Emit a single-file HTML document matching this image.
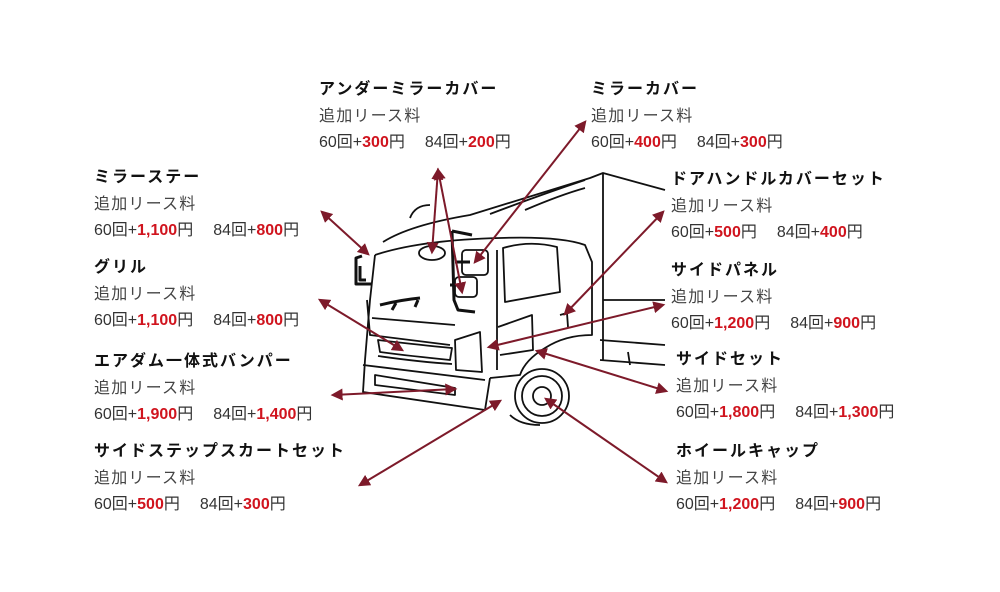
<!DOCTYPE html>
<html><head><meta charset="utf-8"><style>
body{margin:0;width:1000px;height:592px;background:#fff;position:relative;overflow:hidden;font-family:"Liberation Sans","Noto Sans CJK JP",sans-serif}
.b{position:absolute;line-height:26.5px}
.t{font-size:16px;font-weight:bold;color:#111;letter-spacing:2px}
.l{font-size:16px;color:#444;letter-spacing:1.2px}
.p{font-size:16px;color:#333}
.p b{color:#d0141e}
.g{display:inline-block;width:20px}
svg{position:absolute;left:0;top:0}
</style></head><body>
<svg width="1000" height="592" viewBox="0 0 1000 592">
<defs><marker id="a" viewBox="0 0 10 10" refX="8" refY="5" markerWidth="6" markerHeight="6" orient="auto-start-reverse"><path d="M0 0L10 5L0 10z" fill="#7d1a2a"/></marker></defs>
<g fill="none" stroke="#111" stroke-width="1.8" stroke-linejoin="round">
<path d="M383 242 Q410 225 470 215 L590 178 L603 173 L665 190"/>
<path d="M490 214 Q540 195 585 180"/>
<path d="M603 173 L603 360"/>
<path d="M603 300 L665 300"/>
<path d="M600 340 L665 345"/>
<path d="M375 255 Q420 240 500 238 Q560 236 585 245 L592 262 L592 335 Q565 335 545 348 Q525 360 520 375 L490 378"/>
<path d="M375 255 L370 300 L365 360 L363 392 L485 410 L490 378"/>
<path d="M367 300 L370 335 L450 345"/>
<path d="M372 318 L455 325"/>
<path d="M378 340 Q420 345 452 348 L450 360 Q410 356 380 352 Z"/>
<path d="M378 356 Q420 362 452 364"/>
<path d="M363 365 L485 380"/>
<path d="M375 375 L455 388 L455 395 L375 385 Z"/>
<path d="M455 340 L480 332 L482 372 L456 370 Z"/>
<path d="M503 248 Q530 240 557 247 L560 292 L505 302 Z"/>
<path d="M497 250 L497 370"/>
<path d="M498 327 L532 315 L533 350 L500 355"/>
<path d="M560 315 L567 313 L568 327"/>
<path d="M410 218 Q415 205 430 205"/>
<path d="M525 210 Q560 195 585 188"/>
<circle cx="542" cy="396" r="27"/>
<circle cx="542" cy="396" r="20"/>
<circle cx="542" cy="396" r="9"/>
<path d="M510 415 Q520 425 540 425"/>
<path d="M600 360 L665 365"/>
<path d="M628 352 L630 365"/>
</g>
<g fill="none" stroke="#111" stroke-width="3" stroke-linejoin="round">
<path d="M362 256 L356 258 L356 284 L372 284"/>
<path d="M360 266 L360 280 L366 280"/>
<path d="M452 231 L472 235"/>
<path d="M452 231 L454 300 L458 310 L475 312"/>
<path d="M380 305 Q400 300 420 298"/>
<path d="M396 303 L392 310"/><path d="M418 300 L415 307"/>
<path d="M455 262 L470 262"/><path d="M450 285 L462 285"/>
<rect x="462" y="250" width="26" height="25" rx="4" stroke-width="1.8"/>
<rect x="455" y="277" width="22" height="20" rx="4" stroke-width="1.8"/>
<ellipse cx="432" cy="253" rx="13" ry="7" stroke-width="1.8"/>
</g>
<g stroke="#7d1a2a" stroke-width="2" marker-start="url(#a)" marker-end="url(#a)">
<line x1="322" y1="212" x2="368" y2="254"/>
<line x1="438" y1="170" x2="432" y2="252"/>
<line x1="438" y1="170" x2="462" y2="292"/>
<line x1="585" y1="122" x2="475" y2="262"/>
<line x1="663" y1="212" x2="565" y2="314"/>
<line x1="663" y1="305" x2="489" y2="347"/>
<line x1="666" y1="391" x2="537" y2="351"/>
<line x1="666" y1="482" x2="546" y2="399"/>
<line x1="360" y1="485" x2="500" y2="401"/>
<line x1="333" y1="395" x2="455" y2="389"/>
<line x1="320" y1="300" x2="402" y2="350"/>
</g>
</svg>
<div class="b" style="left:319px;top:77px"><div class="t">アンダーミラーカバー</div><div class="l">追加リース料</div><div class="p">60回+<b>300</b>円<span class="g"></span>84回+<b>200</b>円</div></div>
<div class="b" style="left:591px;top:77px"><div class="t">ミラーカバー</div><div class="l">追加リース料</div><div class="p">60回+<b>400</b>円<span class="g"></span>84回+<b>300</b>円</div></div>
<div class="b" style="left:94px;top:165px"><div class="t">ミラーステー</div><div class="l">追加リース料</div><div class="p">60回+<b>1,100</b>円<span class="g"></span>84回+<b>800</b>円</div></div>
<div class="b" style="left:671px;top:167px"><div class="t">ドアハンドルカバーセット</div><div class="l">追加リース料</div><div class="p">60回+<b>500</b>円<span class="g"></span>84回+<b>400</b>円</div></div>
<div class="b" style="left:94px;top:255px"><div class="t">グリル</div><div class="l">追加リース料</div><div class="p">60回+<b>1,100</b>円<span class="g"></span>84回+<b>800</b>円</div></div>
<div class="b" style="left:671px;top:258px"><div class="t">サイドパネル</div><div class="l">追加リース料</div><div class="p">60回+<b>1,200</b>円<span class="g"></span>84回+<b>900</b>円</div></div>
<div class="b" style="left:94px;top:349px"><div class="t">エアダム一体式バンパー</div><div class="l">追加リース料</div><div class="p">60回+<b>1,900</b>円<span class="g"></span>84回+<b>1,400</b>円</div></div>
<div class="b" style="left:676px;top:347px"><div class="t">サイドセット</div><div class="l">追加リース料</div><div class="p">60回+<b>1,800</b>円<span class="g"></span>84回+<b>1,300</b>円</div></div>
<div class="b" style="left:94px;top:439px"><div class="t">サイドステップスカートセット</div><div class="l">追加リース料</div><div class="p">60回+<b>500</b>円<span class="g"></span>84回+<b>300</b>円</div></div>
<div class="b" style="left:676px;top:439px"><div class="t">ホイールキャップ</div><div class="l">追加リース料</div><div class="p">60回+<b>1,200</b>円<span class="g"></span>84回+<b>900</b>円</div></div>
</body></html>
